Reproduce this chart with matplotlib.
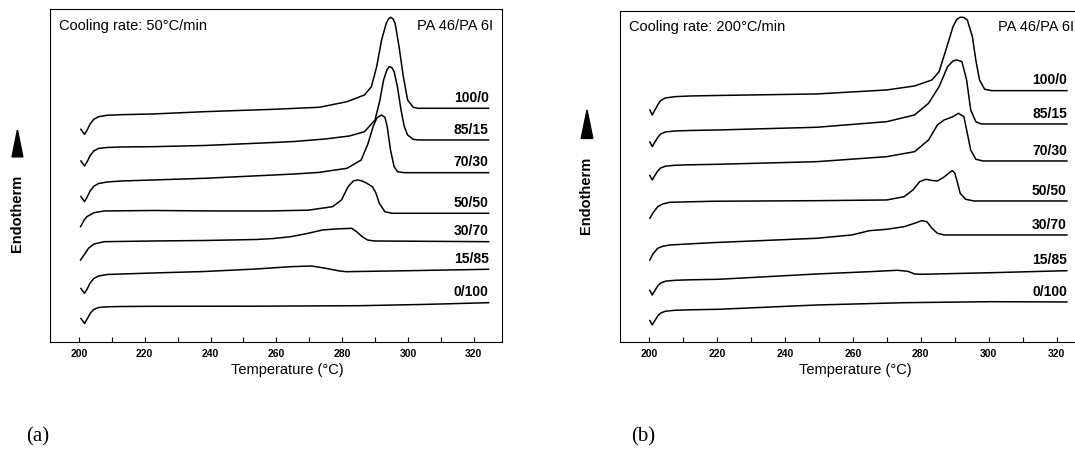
import matplotlib.pyplot as plt
from matplotlib.patches import Polygon
from matplotlib.ticker import MultipleLocator

plt.rcParams['font.family'] = ['Liberation Sans', 'DejaVu Sans']

# blend labels (PA 46 / PA 6I), top to bottom
blends = ["100/0", "85/15", "70/30", "50/50", "30/70", "15/85", "0/100"]

# (a) cooling rate 50 C/min : temperature (C) and shifted heat flow (a.u.)
a_t_100_0 = [200.6, 201.7, 202.5, 203.4, 204.5, 206.0, 208.6, 213.0, 222.5, 238.3, 259.4, 273.1, 281.5, 286.8,
             288.9, 290.5, 292.0, 293.4, 294.1, 294.7, 295.5, 296.1, 297.3, 298.6, 299.9, 301.6, 303.0, 324.5]
a_q_100_0 = [212.7, 207.7, 212.0, 218.0, 222.7, 225.3, 226.7, 227.3, 228.0, 230.3, 232.7, 234.7, 240.3, 247.0,
             255.3, 275.3, 302.0, 318.7, 323.0, 324.7, 323.0, 318.7, 295.3, 265.3, 242.0, 234.7, 233.7, 233.7]
a_t_85_15 = [200.6, 201.7, 202.5, 203.4, 204.5, 206.0, 208.6, 213.0, 222.5, 238.3, 259.4, 265.5, 274.9, 282.2,
             286.8, 290.0, 291.5, 292.6, 293.6, 294.3, 295.1, 295.8, 296.8, 297.9, 298.9, 299.9, 301.6, 303.0, 324.5]
a_q_85_15 = [181.0, 176.0, 180.3, 186.3, 191.0, 193.6, 194.5, 195.0, 195.3, 196.5, 199.5, 200.5, 203.0, 206.0,
             210.3, 222.0, 242.0, 262.0, 272.0, 275.3, 274.5, 270.3, 255.3, 232.0, 215.3, 207.0, 202.7, 202.0, 202.0]
a_t_70_30 = [200.6, 201.7, 202.5, 203.4, 204.5, 206.0, 208.6, 213.0, 222.5, 238.3, 259.4, 265.5, 272.8, 281.5,
             285.8, 287.9, 289.4, 290.5, 291.9, 293.0, 293.7, 294.7, 295.8, 296.8, 298.8, 324.5]
a_q_70_30 = [145.5, 140.3, 145.0, 151.0, 155.7, 158.5, 160.0, 161.0, 162.0, 163.7, 167.0, 168.0, 169.5, 173.7,
             182.0, 198.7, 215.3, 223.7, 227.0, 224.7, 215.3, 192.0, 175.3, 170.3, 169.3, 169.3]
a_t_50_50 = [200.5, 201.6, 202.4, 204.6, 207.7, 222.5, 241.6, 257.2, 269.7, 277.1, 279.8, 281.8, 283.4, 284.7,
             285.9, 287.2, 289.2, 290.3, 291.3, 293.0, 295.1, 324.5]
a_q_50_50 = [115.3, 122.0, 125.3, 129.3, 131.0, 131.5, 131.0, 131.0, 131.8, 135.3, 142.0, 155.3, 161.0, 162.0,
             161.2, 159.3, 155.3, 148.7, 138.7, 130.3, 128.7, 128.7]
a_t_30_70 = [200.5, 201.9, 202.9, 204.6, 207.7, 222.5, 238.3, 253.9, 259.3, 264.4, 269.7, 274.0, 278.1, 282.9,
             284.4, 286.1, 287.7, 289.8, 324.5]
a_q_30_70 = [82.0, 88.7, 93.7, 98.0, 100.3, 101.0, 101.5, 102.5, 103.5, 105.3, 108.7, 112.0, 113.0, 113.7,
             110.3, 105.3, 102.0, 101.0, 100.3]
a_t_15_85 = [200.6, 201.7, 202.5, 203.4, 204.5, 206.0, 208.6, 213.0, 222.5, 238.3, 253.9, 264.4, 270.7, 275.0,
             279.2, 281.3, 300.3, 324.5]
a_q_15_85 = [53.5, 48.7, 53.0, 59.0, 63.5, 66.0, 67.5, 68.0, 69.0, 70.5, 73.0, 75.3, 76.0, 73.7,
             71.0, 70.3, 71.3, 72.7]
a_t_0_100 = [200.6, 201.7, 202.5, 203.4, 204.5, 206.0, 208.6, 213.0, 222.5, 253.9, 285.5, 306.6, 324.5]
a_q_0_100 = [23.5, 18.5, 23.0, 28.5, 32.5, 34.5, 35.2, 35.5, 35.7, 35.8, 36.3, 37.7, 39.3]

# (b) cooling rate 200 C/min
b_t_100_0 = [200.3, 201.0, 201.7, 202.6, 203.5, 204.9, 207.7, 212.3, 220.5, 249.4, 270.0, 278.2, 283.3, 285.4,
             287.4, 289.5, 290.6, 291.6, 292.7, 293.7, 295.2, 296.2, 297.3, 298.8, 300.9, 323.0]
b_q_100_0 = [232.0, 227.0, 231.5, 237.0, 241.5, 244.0, 245.3, 246.0, 246.5, 248.0, 252.0, 256.0, 262.0, 270.3,
             292.0, 315.3, 322.5, 324.7, 324.5, 322.0, 305.3, 282.0, 262.0, 252.7, 251.3, 251.3]
b_t_85_15 = [200.3, 201.0, 201.7, 202.6, 203.5, 204.9, 207.7, 212.3, 220.5, 249.4, 270.0, 278.2, 282.3, 285.4,
             287.9, 289.5, 290.6, 292.1, 293.5, 294.7, 296.2, 297.8, 323.0]
b_q_85_15 = [200.0, 195.3, 199.5, 204.5, 208.0, 210.0, 211.0, 211.5, 212.0, 214.7, 220.3, 227.0, 238.7, 255.3,
             275.3, 281.0, 282.0, 280.3, 262.0, 232.0, 220.3, 218.0, 218.0]
b_t_70_30 = [200.3, 201.0, 201.7, 202.6, 203.5, 204.9, 207.7, 212.3, 220.5, 249.4, 270.0, 278.2, 282.3, 284.9,
             286.9, 289.5, 291.1, 292.7, 293.7, 294.7, 296.2, 298.3, 323.0]
b_q_70_30 = [166.5, 162.0, 166.0, 171.0, 174.0, 175.8, 176.7, 177.2, 177.7, 180.3, 185.3, 190.3, 202.0, 217.0,
             222.0, 225.3, 228.7, 225.3, 208.7, 192.0, 182.7, 181.0, 181.0]
b_t_50_50 = [200.3, 201.2, 202.6, 204.1, 206.2, 218.5, 249.2, 270.0, 275.1, 277.7, 279.7, 281.5, 283.3, 284.9,
             286.9, 288.5, 289.3, 290.0, 290.6, 291.6, 293.2, 295.7, 323.0]
b_q_50_50 = [123.7, 129.0, 135.3, 138.0, 139.7, 140.7, 141.3, 142.0, 145.3, 152.0, 160.3, 162.7, 161.5, 161.0,
             165.0, 169.5, 171.3, 169.0, 162.0, 148.7, 142.7, 141.0, 141.0]
b_t_30_70 = [200.3, 201.2, 202.6, 204.1, 206.2, 218.5, 249.4, 259.7, 264.9, 270.0, 275.1, 278.2, 280.3, 281.8,
             283.3, 284.9, 286.9, 323.0]
b_q_30_70 = [82.0, 88.0, 93.7, 95.7, 97.0, 99.3, 103.7, 107.0, 111.3, 112.7, 115.3, 118.7, 121.3, 120.3,
             113.7, 108.7, 107.0, 107.0]
b_t_15_85 = [200.3, 201.0, 201.7, 202.6, 203.5, 204.9, 207.7, 212.3, 220.5, 249.4, 264.9, 273.1, 276.2, 278.2,
             280.3, 300.9, 323.0]
b_q_15_85 = [51.5, 47.0, 51.0, 56.0, 59.0, 60.8, 61.7, 62.2, 62.7, 68.0, 70.3, 71.7, 70.7, 68.0,
             67.7, 69.3, 71.3]
b_t_0_100 = [200.3, 201.0, 201.7, 202.6, 203.5, 204.9, 207.7, 212.3, 220.5, 249.4, 275.1, 300.9, 323.0]
b_q_0_100 = [21.5, 17.0, 21.0, 26.0, 29.0, 30.8, 31.7, 32.2, 32.7, 37.0, 39.3, 40.3, 40.0]

curves_a = [(a_t_100_0, a_q_100_0), (a_t_85_15, a_q_85_15), (a_t_70_30, a_q_70_30), (a_t_50_50, a_q_50_50),
            (a_t_30_70, a_q_30_70), (a_t_15_85, a_q_15_85), (a_t_0_100, a_q_0_100)]
curves_b = [(b_t_100_0, b_q_100_0), (b_t_85_15, b_q_85_15), (b_t_70_30, b_q_70_30), (b_t_50_50, b_q_50_50),
            (b_t_30_70, b_q_30_70), (b_t_15_85, b_q_15_85), (b_t_0_100, b_q_0_100)]


def draw_panel(ax, curves, rate, xlim, ylim, xlab_x, endo_y, arrow, pa_x):
    for (t, q), name in zip(curves, blends):
        ax.plot(t, q, color='k', lw=1.1)
        ax.annotate(name, xy=(t[-1], q[-1]), xytext=(0, 7.5), textcoords='offset points',
                    ha='right', va='center', fontsize=10, fontweight='bold')
    ax.set_xlim(*xlim)
    ax.set_ylim(*ylim)
    ax.set_yticks([])
    ax.xaxis.set_major_locator(MultipleLocator(20))
    ax.xaxis.set_minor_locator(MultipleLocator(10))
    ax.set_xticks(range(200, 321, 20))
    ax.tick_params(axis='x', which='both', direction='in', length=3.5, width=0.8, pad=5,
                   labelsize=7.5)
    for lab in ax.get_xticklabels():
        lab.set_fontweight('bold')
    for s in ax.spines.values():
        s.set_linewidth(0.8)
    ax.text(0.02, 0.95, 'Cooling rate: %d°C/min' % rate, transform=ax.transAxes,
            ha='left', va='center', fontsize=10.5)
    ax.text(pa_x, 0.95, 'PA 46/PA 6I', transform=ax.transAxes,
            ha='left', va='center', fontsize=10.5, clip_on=False)
    ax.text(xlab_x, -0.085, 'Temperature (°C)', transform=ax.transAxes,
            ha='center', va='center', fontsize=10.5)
    ax.text(-0.073, endo_y, 'Endotherm', transform=ax.transAxes, rotation=90,
            ha='center', va='center', fontsize=10.5, fontweight='bold')
    ax.add_patch(Polygon(arrow, closed=True, color='k', transform=ax.transAxes, clip_on=False))


fig = plt.figure(figsize=(10.75, 4.63), dpi=100)
ax_a = fig.add_axes([0.0465, 0.262, 0.4205, 0.718])
ax_b = fig.add_axes([0.5767, 0.262, 0.4344, 0.715])

draw_panel(ax_a, curves_a, 50, (191.2, 328.6), (0.3, 332.7), 0.525, 0.387,
           [(-0.084, 0.556), (-0.060, 0.556), (-0.072, 0.637)], 0.812)
draw_panel(ax_b, curves_b, 200, (191.5, 328.9), (0.3, 331.3), 0.505, 0.443,
           [(-0.083, 0.614), (-0.058, 0.614), (-0.0705, 0.700)], 0.81)

fig.text(38 / 1075, 1 - 437 / 463, '(a)', family='Liberation Serif', fontsize=15, ha='center', va='center')
fig.text(643 / 1075, 1 - 437 / 463, '(b)', family='Liberation Serif', fontsize=15, ha='center', va='center')

fig.savefig('out.png', dpi=100)
